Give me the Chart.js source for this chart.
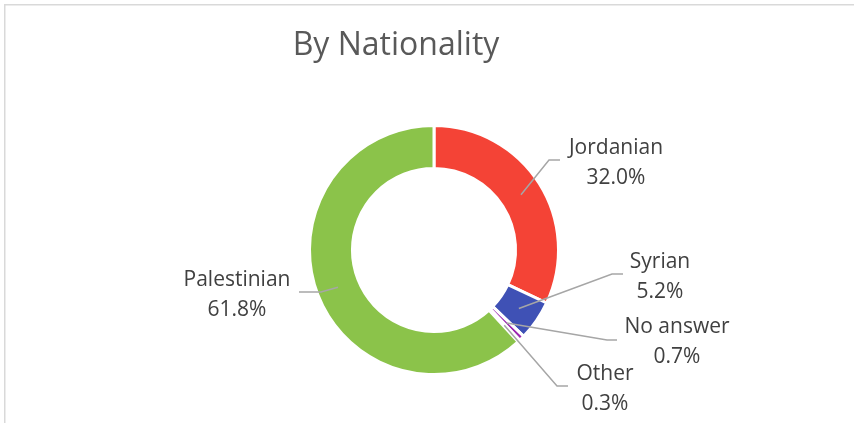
<!DOCTYPE html>
<html>
<head>
<meta charset="utf-8">
<title>By Nationality</title>
<script src="https://cdn.jsdelivr.net/npm/chart.js@4/dist/chart.umd.min.js"></script>
<style>
  html, body { margin: 0; padding: 0; background: #fff; }
  #wrap { position: relative; width: 854px; height: 423px; }
</style>
</head>
<body>
<div id="wrap"><canvas id="nationality"></canvas></div>
<script>
// Respondents by nationality, share of total (%)
const categories = ['Jordanian', 'Syrian', 'No answer', 'Other', 'Palestinian'];
const shares = [32.0, 5.2, 0.7, 0.3, 61.8];
const sliceColors = ['#f44336', '#3f51b5', '#9c27b0', '#e91e63', '#8bc34a'];

const TEXT_FONT = '"Open Sans", "DejaVu Sans", sans-serif';

// Where each callout sits: elbow of the leader line, its end, and the text block
const calloutLayout = [
  { elbow: [549, 160], end: [560, 160], tx: 616, base: [154, 184] },
  { elbow: [612, 274], end: [623, 274], tx: 660, base: [268, 298] },
  { elbow: [607, 340], end: [617, 340], tx: 677, base: [333, 363] },
  { elbow: [557, 386], end: [568, 386], tx: 605, base: [380, 410] },
  { elbow: [321, 292], end: [299, 292], tx: 237, base: [286, 316] }
];

// Light frame along the top and left edges
const framePlugin = {
  id: 'frame',
  beforeDraw(chart) {
    const ctx = chart.ctx;
    ctx.save();
    ctx.strokeStyle = '#d9d9d9';
    ctx.lineWidth = 1.5;
    ctx.beginPath();
    ctx.moveTo(4.75, chart.height);
    ctx.lineTo(4.75, 4.75);
    ctx.lineTo(chart.width, 4.75);
    ctx.stroke();
    ctx.restore();
  }
};

// Title plus category/percentage callouts with leader lines
const calloutPlugin = {
  id: 'callouts',
  afterDatasetsDraw(chart) {
    const ctx = chart.ctx;
    const arcs = chart.getDatasetMeta(0).data;
    ctx.save();

    ctx.fillStyle = '#595959';
    ctx.font = '32px ' + TEXT_FONT;
    ctx.textAlign = 'center';
    ctx.textBaseline = 'alphabetic';
    ctx.fillText('By Nationality', 396, 55);

    arcs.forEach((arc, i) => {
      const lay = calloutLayout[i];
      const p = arc.tooltipPosition();
      ctx.strokeStyle = '#a6a6a6';
      ctx.lineWidth = 1.5;
      ctx.beginPath();
      ctx.moveTo(p.x, p.y);
      ctx.lineTo(lay.elbow[0], lay.elbow[1]);
      ctx.lineTo(lay.end[0], lay.end[1]);
      ctx.stroke();

      ctx.fillStyle = '#404040';
      ctx.font = '21px ' + TEXT_FONT;
      ctx.fillText(categories[i], lay.tx, lay.base[0]);
      ctx.fillText(shares[i].toFixed(1) + '%', lay.tx, lay.base[1]);
    });

    ctx.restore();
  }
};

new Chart(document.getElementById('nationality'), {
  type: 'doughnut',
  data: {
    labels: categories,
    datasets: [{
      data: shares,
      backgroundColor: sliceColors,
      borderColor: '#ffffff',
      borderWidth: 3
    }]
  },
  options: {
    responsive: true,
    maintainAspectRatio: false,
    animation: false,
    cutout: '65.5%',
    layout: { padding: { left: 308, right: 294, top: 124, bottom: 47 } },
    plugins: {
      legend: { display: false },
      tooltip: { enabled: false }
    }
  },
  plugins: [framePlugin, calloutPlugin]
});
</script>
</body>
</html>
